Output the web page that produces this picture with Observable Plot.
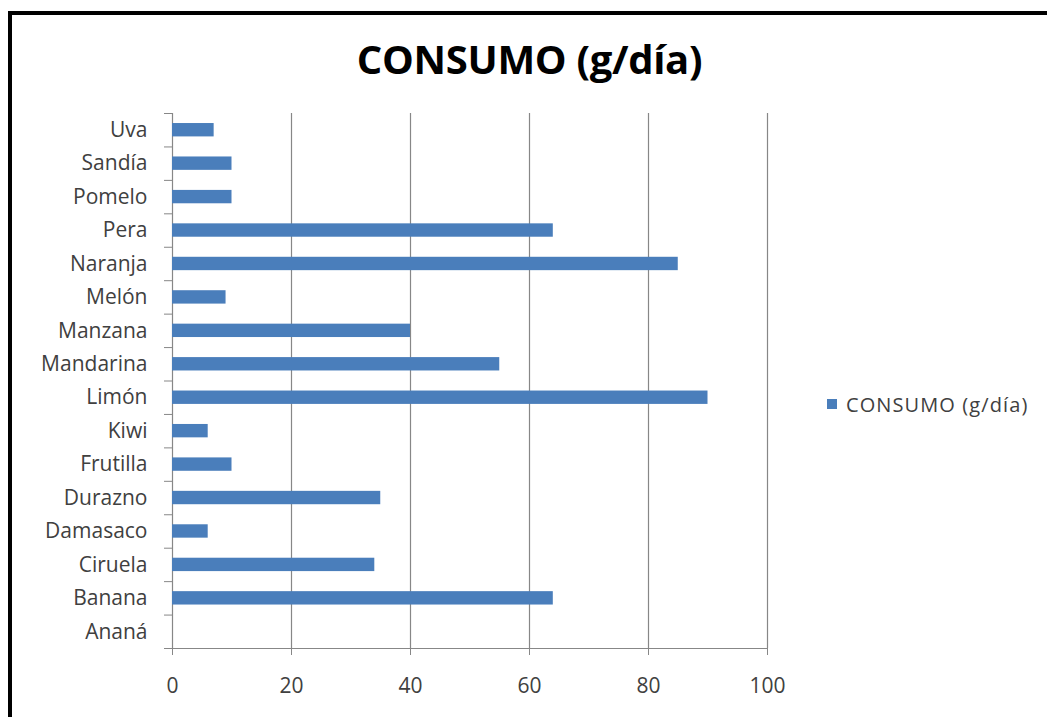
<!DOCTYPE html>
<html>
<head>
<meta charset="utf-8">
<script src="https://cdn.jsdelivr.net/npm/d3@7"></script>
<script src="https://cdn.jsdelivr.net/npm/@observablehq/plot@0.6"></script>
<style>
  html, body { margin: 0; padding: 0; background: #fff; }
  #page { position: relative; width: 1047px; height: 717px; overflow: hidden; background: #fff; }
  #frame { position: absolute; left: 8px; top: 11px; width: 1100px; height: 800px;
           border-top: 4px solid #000; border-left: 4px solid #000; box-sizing: border-box; }
  #content { position: absolute; left: 12px; top: 15px; width: 1035px; height: 702px; }
  #title { height: 85px; box-sizing: border-box; padding-top: 24px; text-align: center;
           font-family: "Open Sans", sans-serif; font-weight: 700; font-size: 40px; line-height: 40px;
           color: #000; letter-spacing: -0.3px; }
  #row { position: relative; height: 617px; }
  #legend { position: absolute; left: 815px; top: 292px; height: 24px; display: flex; align-items: center;
            font-family: "Open Sans", sans-serif; font-size: 20px; color: #404040; letter-spacing: 1.1px; }
  #legend .sw { width: 10px; height: 10px; margin-right: 9px; }
</style>
</head>
<body>
<div id="page">
  <div id="frame"></div>
  <div id="content">
    <div id="title"></div>
    <div id="row"><div id="chart"></div><div id="legend"></div></div>
  </div>
</div>
<script>
const categories = ["Uva","Sandía","Pomelo","Pera","Naranja","Melón","Manzana","Mandarina","Limón","Kiwi","Frutilla","Durazno","Damasaco","Ciruela","Banana","Ananá"];
const values = [7,10,10,64,85,9,40,55,90,6,10,35,6,34,64,0];
const xTicks = [0,20,40,60,80,100];
const seriesName = "CONSUMO (g/día)";
const titleText = "CONSUMO (g/día)";

const barColor = "#4a7ebb";
const axisGray = "#878787";
const textColor = "#404040";

const data = categories.map((c, i) => ({category: c, value: values[i]}));

const W = 788, H = 617, mt = 13, mb = 69, ml = 160, mr = 33;
const step = (H - mt - mb) / categories.length;

const chart = Plot.plot({
  width: W,
  height: H,
  marginTop: mt,
  marginBottom: mb,
  marginLeft: ml,
  marginRight: mr,
  style: {fontFamily: "Open Sans, sans-serif", fontSize: "20px", color: textColor, background: "#fff", overflow: "visible"},
  x: {domain: [0, 100], label: null},
  y: {domain: categories, paddingInner: 0.6, paddingOuter: 0.3, round: false, label: null},
  marks: [
    Plot.ruleX(xTicks.filter(d => d > 0), {stroke: axisGray, strokeWidth: 1.2}),
    Plot.ruleX([0], {stroke: axisGray, strokeWidth: 1.2}),
    Plot.ruleY([categories[categories.length - 1]], {dy: step / 2, stroke: axisGray, strokeWidth: 1.2}),
    Plot.barX(data, {x: "value", y: "category", fill: barColor}),
    Plot.axisX({ticks: xTicks, tickSize: 7, tickPadding: 23, stroke: axisGray, fill: textColor, label: null, fontSize: 21, letterSpacing: 1.2}),
    Plot.axisY({tickSize: 0, tickPadding: 25, fill: textColor, label: null, fontSize: 21, letterSpacing: 1.4}),
    Plot.axisY({tickSize: 8, dy: -step / 2, stroke: axisGray, tickFormat: () => "", label: null}),
    Plot.axisY({ticks: [categories[categories.length - 1]], tickSize: 8, dy: step / 2, stroke: axisGray, tickFormat: () => "", label: null})
  ]
});
document.getElementById("chart").appendChild(chart);
document.getElementById("title").textContent = titleText;
const lg = document.getElementById("legend");
const sw = document.createElement("div");
sw.className = "sw";
sw.style.background = barColor;
lg.appendChild(sw);
const lt = document.createElement("span");
lt.textContent = seriesName;
lg.appendChild(lt);
</script>
</body>
</html>
